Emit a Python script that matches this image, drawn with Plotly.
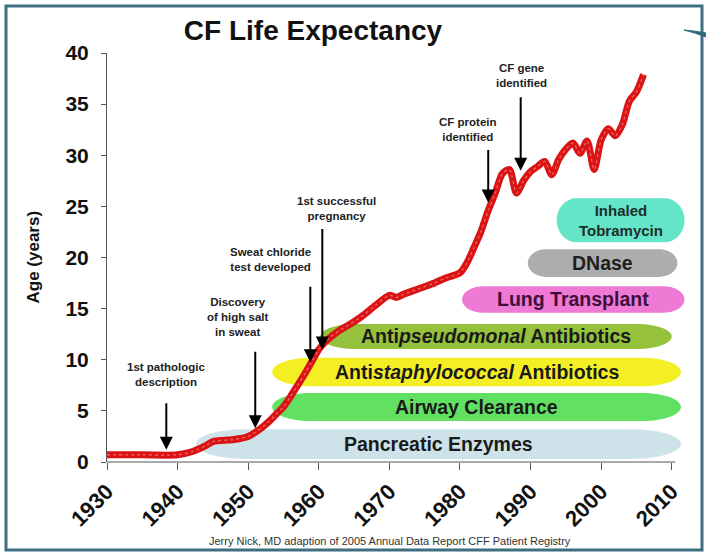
import plotly.graph_objects as go
import numpy as np

# ---------------- data ----------------
years = [1930, 1935, 1940, 1942, 1944, 1945, 1948, 1950, 1951, 1952, 1953, 1954,
         1955, 1956, 1957, 1958, 1959, 1960, 1961, 1962, 1963, 1964, 1966, 1968,
         1970, 1971, 1972, 1974, 1976, 1978, 1980, 1981, 1982, 1983, 1984, 1985,
         1986, 1987, 1988, 1989, 1990, 1991, 1992, 1993, 1994, 1995, 1996, 1997,
         1998, 1999, 2000, 2001, 2002, 2003, 2004, 2005, 2006]
ages = [0.7, 0.7, 0.7, 1.0, 1.6, 2.0, 2.2, 2.5, 2.9, 3.4, 4.0, 4.7,
        5.4, 6.4, 7.5, 8.6, 9.8, 11.0, 11.8, 12.4, 12.9, 13.3, 14.2, 15.3,
        16.3, 16.1, 16.4, 16.9, 17.4, 18.0, 18.5, 19.5, 21.0, 22.6, 24.6, 26.3,
        28.2, 28.6, 26.3, 27.5, 28.4, 28.9, 29.4, 28.1, 29.6, 30.6, 31.2, 30.2,
        31.4, 28.6, 31.5, 32.6, 31.9, 33.0, 35.3, 36.2, 37.9]

event_labels = ["1st pathologic<br>description",
                "Discovery<br>of high salt<br>in sweat",
                "Sweat chloride<br>test developed",
                "1st successful<br>pregnancy",
                "CF protein<br>identified",
                "CF gene<br>identified"]
event_years = [1938.4, 1951.0, 1958.8, 1960.5, 1984.0, 1988.6]

band_labels = ["Pancreatic Enzymes",
               "Airway Clearance",
               "Anti<i>staphylococcal</i> Antibiotics",
               "Anti<i>pseudomonal</i> Antibiotics",
               "Lung Transplant",
               "DNase",
               "Inhaled<br>Tobramycin"]
band_start = [1942.6, 1953.4, 1953.4, 1960.2, 1980.3, 1989.6, 1993.7]
band_end = [2011.3, 2011.3, 2011.3, 2010.0, 2011.8, 2010.8, 2011.8]

x_ticks = [1930, 1940, 1950, 1960, 1970, 1980, 1990, 2000, 2010]
y_ticks = [0, 5, 10, 15, 20, 25, 30, 35, 40]

title_text = "CF Life Expectancy"
y_title = "Age (years)"
footnote = "Jerry Nick, MD adaption of 2005 Annual Data Report CFF Patient Registry"

# ---------------- style / layout config ----------------
W, H = 706, 556
ML, MR, MT, MB = 107, 18, 53, 94
XR = [1930, 2012.3]
YR = [0, 40]
PW = W - ML - MR
PH = H - MT - MB

FONT = "Liberation Sans, Arial, sans-serif"

band_rows = [(0.3, 3.2), (4.0, 6.75), (7.4, 10.2), (11.05, 13.5),
             (14.6, 17.2), (18.1, 20.8), (21.5, 25.8)]
band_colors = ["#cee3e9", "#62e062", "#f3ef24", "#95c13d",
               "#ee7ad5", "#adadad", "#64e5c8"]
band_rx = [7.0, 5.5, 5.5, 5.0, 3.0, 2.6, 2.8]
band_text_colors = ["#1a1a1a", "#1a1a1a", "#1a1a1a", "#1a1a1a",
                    "#3d0f3a", "#1e1e1e", "#1e2e2a"]
band_font = [19.5, 19.5, 19.5, 19.5, 19.5, 19.5, 15]

ev_len = [48, 78, 77, 122, 54, 75]          # arrow length px
ev_tip_shift = [5, 4, 2, -4, 8, 15]         # tip offset above curve px
ev_text_dx = [0, -17, -40, 14, -20, 1]      # text offset px
ev_text_gap = [12, 10, 10, 3, 3, 5]


def px2paper_x(px):
    return (px - ML) / PW


def px2paper_y(py):
    return (H - MB - py) / PH


def stadium(x0, x1, y0, y1, rx):
    k = 0.5523
    yc = (y0 + y1) / 2
    ry = (y1 - y0) / 2
    a = x0 + rx
    b = x1 - rx
    return (f"M{a},{y1} L{b},{y1} C{b + k * rx},{y1} {x1},{yc + k * ry} {x1},{yc} "
            f"C{x1},{yc - k * ry} {b + k * rx},{y0} {b},{y0} L{a},{y0} "
            f"C{a - k * rx},{y0} {x0},{yc - k * ry} {x0},{yc} "
            f"C{x0},{yc + k * ry} {a - k * rx},{y1} {a},{y1} Z")


fig = go.Figure()

fig.add_trace(go.Scatter(
    x=years, y=ages, mode="lines",
    line=dict(color="#da1414", width=7, shape="spline", smoothing=0.8),
    hoverinfo="skip", showlegend=False))
fig.add_trace(go.Scatter(
    x=years, y=ages, mode="lines",
    line=dict(color="rgba(255,175,175,0.55)", width=1.2, shape="spline",
              smoothing=0.8, dash="dot"),
    hoverinfo="skip", showlegend=False))

shapes = []
annotations = []

# bands
for lab, xs, xe, (y0, y1), col, rx, tc, fs in zip(
        band_labels, band_start, band_end, band_rows, band_colors, band_rx,
        band_text_colors, band_font):
    shapes.append(dict(type="path", xref="x", yref="y", path=stadium(xs, xe, y0, y1, rx),
                       fillcolor=col, line=dict(width=0), layer="below"))
    annotations.append(dict(x=(xs + xe) / 2, y=(y0 + y1) / 2, xref="x", yref="y",
                            text=f"<b>{lab}</b>", showarrow=False,
                            xanchor="center", yanchor="middle",
                            font=dict(family=FONT, size=fs, color=tc)))

# bottom axis line (ends at 2010)
shapes.append(dict(type="line", xref="x", yref="paper", x0=XR[0], x1=2010.5,
                   y0=0, y1=0, line=dict(color="#555555", width=1)))

# outer frame
shapes.append(dict(type="rect", xref="paper", yref="paper",
                   x0=px2paper_x(6), x1=px2paper_x(702),
                   y0=px2paper_y(550), y1=px2paper_y(6),
                   line=dict(color="#3e6f80", width=3), fillcolor="rgba(0,0,0,0)"))
# decorative swoosh
shapes.append(dict(type="path", xref="paper", yref="paper",
                   path=(f"M{px2paper_x(684)},{px2paper_y(30)} "
                         f"Q{px2paper_x(696)},{px2paper_y(31)} {px2paper_x(706)},{px2paper_y(33)} "
                         f"L{px2paper_x(706)},{px2paper_y(37)} "
                         f"Q{px2paper_x(696)},{px2paper_y(33)} {px2paper_x(684)},{px2paper_y(30)} Z"),
                   fillcolor="#2f6a7e", line=dict(color="#2f6a7e", width=1)))

# events
tips = np.interp(event_years, years, ages)
for lab, ex, tip, L, sh, dx, gap in zip(event_labels, event_years, tips, ev_len,
                                        ev_tip_shift, ev_text_dx, ev_text_gap):
    annotations.append(dict(x=ex, y=float(tip), xref="x", yref="y", text="",
                            showarrow=True, arrowhead=2, arrowsize=1.3, arrowwidth=2,
                            arrowcolor="#000000", ax=0, ay=-L, yshift=sh))
    annotations.append(dict(x=ex, y=float(tip), xref="x", yref="y",
                            text=f"<b>{lab}</b>", showarrow=False,
                            xanchor="center", yanchor="bottom",
                            xshift=dx, yshift=sh + L + gap,
                            font=dict(family=FONT, size=11.5, color="#222222")))

# y axis title
annotations.append(dict(x=px2paper_x(33), y=0.5, xref="paper", yref="paper",
                        xanchor="center", yanchor="middle",
                        text=f"<b>{y_title}</b>", textangle=-90, showarrow=False,
                        font=dict(family=FONT, size=17, color="#111111")))
# footnote
annotations.append(dict(x=px2paper_x(390), y=px2paper_y(541), xref="paper", yref="paper",
                        xanchor="center", yanchor="middle",
                        text=footnote, showarrow=False,
                        font=dict(family="Liberation Sans Narrow, Liberation Sans, Arial",
                                  size=11, color="#333333")))

fig.update_layout(
    width=W, height=H,
    margin=dict(l=ML, r=MR, t=MT, b=MB),
    paper_bgcolor="white", plot_bgcolor="white",
    title=dict(text=f"<b>{title_text}</b>", x=313 / W, xanchor="center",
               y=1 - 30 / H, yanchor="middle",
               font=dict(family=FONT, size=28, color="#111111")),
    shapes=shapes, annotations=annotations, showlegend=False,
    xaxis=dict(range=XR, tickvals=x_ticks, ticktext=[str(v) for v in x_ticks],
               tickangle=-45, ticks="outside", ticklen=7, tickcolor="#555555",
               showline=False, showgrid=False, zeroline=False,
               tickfont=dict(family=FONT, size=22, color="#111111", weight="bold")),
    yaxis=dict(range=YR, tickvals=y_ticks, ticks="outside", ticklen=5,
               tickcolor="#555555", showline=True, linecolor="#555555", linewidth=1,
               showgrid=False, zeroline=False, ticklabelstandoff=8,
               tickfont=dict(family=FONT, size=21, color="#111111", weight="bold")),
)

fig.write_html("out.html", config={"displayModeBar": False},
               post_script="document.body.style.margin='0';document.body.style.overflow='hidden';")
